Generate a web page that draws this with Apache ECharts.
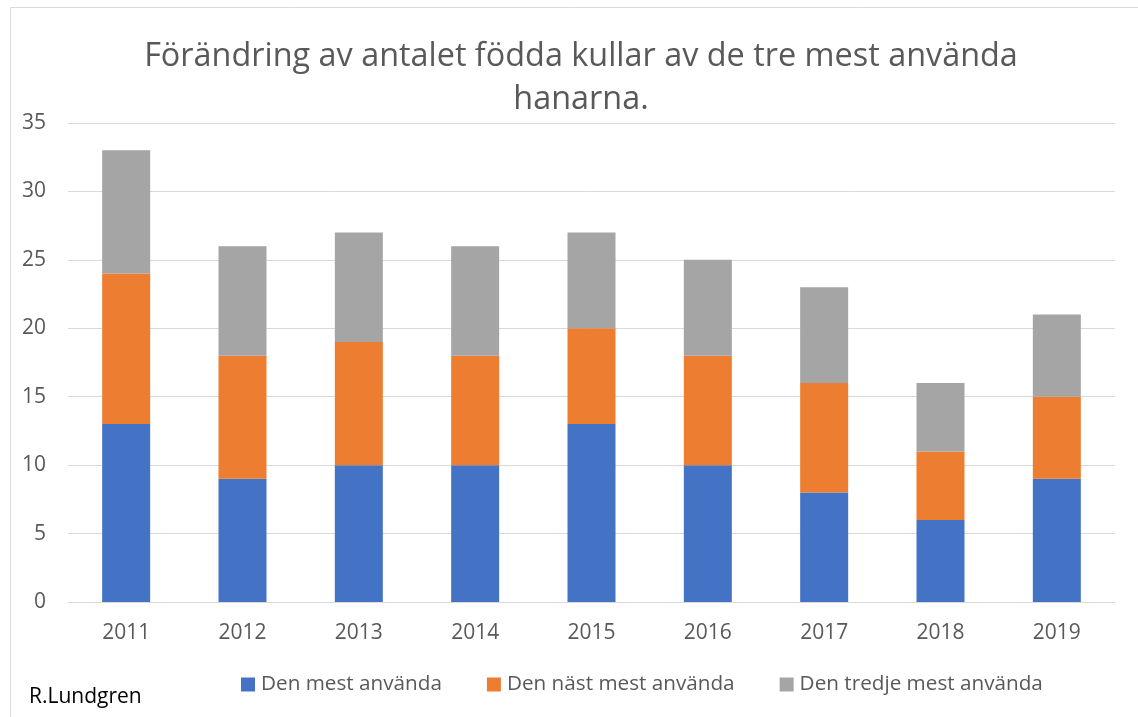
<!DOCTYPE html>
<html><head><meta charset="utf-8">
<script src="https://cdn.jsdelivr.net/npm/echarts@6/dist/echarts.min.js"></script>
<style>html,body{margin:0;padding:0;background:#fff}#c{width:1138px;height:717px}</style>
</head><body><div id="c"></div>
<script>
const categories = ['2011','2012','2013','2014','2015','2016','2017','2018','2019'];
const mest = [13, 9, 10, 10, 13, 10, 8, 6, 9];
const nast = [11, 9, 9, 8, 7, 8, 8, 5, 6];
const tredje = [9, 8, 8, 8, 7, 7, 7, 5, 6];
const seriesNames = ['Den mest använda', 'Den näst mest använda', 'Den tredje mest använda'];
const colors = ['#4472c4', '#ed7d31', '#a5a5a5'];
const FONT = 'Open Sans';

const chart = echarts.init(document.getElementById('c'));
const mk = (name, data, color) => ({
  name, type: 'bar', stack: 'a', data, barWidth: 48,
  itemStyle: { color }, emphasis: { disabled: true }
});
chart.setOption({
  animation: false,
  textStyle: { fontFamily: FONT },
  title: {
    text: 'Förändring av antalet födda kullar av de tre mest använda\nhanarna.',
    left: 576, top: 30, textAlign: 'center',
    textStyle: { fontFamily: FONT, fontSize: 32.4, fontWeight: 'normal', color: '#595959', lineHeight: 43 }
  },
  grid: { left: 68, right: 23, top: 123, bottom: 115, containLabel: false },
  legend: {
    top: 674, left: 241, padding: 0, itemWidth: 14, itemHeight: 14, itemGap: 45,
    icon: 'rect',
    textStyle: { fontFamily: FONT, fontSize: 20.7, lineHeight: 20, color: '#595959', padding: [0, 0, 0, 1] },
    data: seriesNames
  },
  xAxis: {
    type: 'category', data: categories,
    axisLine: { lineStyle: { color: '#d9d9d9', width: 1 } },
    axisTick: { show: false },
    axisLabel: { fontFamily: FONT, fontSize: 21, color: '#595959', margin: 21 }
  },
  yAxis: {
    type: 'value', min: 0, max: 35, interval: 5,
    axisLine: { show: false }, axisTick: { show: false },
    axisLabel: { fontFamily: FONT, fontSize: 21, color: '#595959', margin: 22 },
    splitLine: { lineStyle: { color: '#d9d9d9', width: 1 } }
  },
  graphic: [
    { type: 'rect', shape: { x: 10.5, y: 7.5, width: 1140, height: 720 },
      style: { fill: 'none', stroke: '#d9d9d9', lineWidth: 1 }, silent: true },
    { type: 'text', left: 29, top: 687,
      style: { text: 'R.Lundgren', fontFamily: FONT, fontSize: 21, fill: '#000' } }
  ],
  series: [
    mk(seriesNames[0], mest, colors[0]),
    mk(seriesNames[1], nast, colors[1]),
    mk(seriesNames[2], tredje, colors[2])
  ]
});
</script></body></html>
